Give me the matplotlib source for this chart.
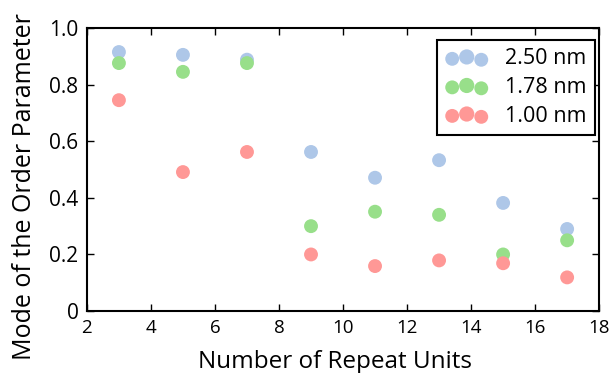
import matplotlib
matplotlib.use("Agg")
import matplotlib.pyplot as plt
from matplotlib.collections import PathCollection
from matplotlib.legend_handler import HandlerPathCollection

plt.rcParams['font.family'] = ['Open Sans', 'DejaVu Sans']

''' Data '''
repeat_units = [3, 5, 7, 9, 11, 13, 15, 17]
mode_250 = [0.915, 0.905, 0.888, 0.562, 0.471, 0.533, 0.382, 0.290]
mode_178 = [0.876, 0.845, 0.876, 0.300, 0.351, 0.340, 0.200, 0.250]
mode_100 = [0.745, 0.491, 0.562, 0.200, 0.159, 0.179, 0.169, 0.119]
labels = ['2.50 nm', '1.78 nm', '1.00 nm']
colors = ['#aec7e8', '#98df8a', '#ff9896']

''' Plot '''
fig = plt.figure(figsize=(6.12, 3.73), dpi=100)
ax = fig.add_axes([0.142, 0.166, 0.837, 0.759])

for vals, lab, col in zip([mode_250, mode_178, mode_100], labels, colors):
    ax.scatter(repeat_units, vals, s=100, color=col, edgecolors='none', label=lab, zorder=3)

ax.set_xlim(2, 18)
ax.set_ylim(0, 1.0)
ax.set_xticks(range(2, 19, 2))
ax.set_yticks([0, 0.2, 0.4, 0.6, 0.8, 1.0])
ax.set_yticklabels(['0', '0.2', '0.4', '0.6', '0.8', '1.0'], fontsize=15)
ax.tick_params(axis='x', labelsize=13.5)
ax.tick_params(direction='in', top=True, right=True, length=5, width=1, pad=6)
for sp in ax.spines.values():
    sp.set_linewidth(1.5)

ax.set_xlabel('Number of Repeat Units', fontsize=17.5, va='top')
ax.xaxis.set_label_coords(0.485, -0.136)
ax.set_ylabel('Mode of the Order Parameter', fontsize=18)
ax.yaxis.set_label_coords(-0.097, 0.44)

leg = ax.legend(loc='upper right', bbox_to_anchor=(0.992, 0.958), borderaxespad=0,
                scatterpoints=3, fontsize=15.5, fancybox=False,
                edgecolor='black', framealpha=1, handletextpad=0.8,
                handlelength=1.95, labelspacing=0.35,
                handler_map={PathCollection: HandlerPathCollection(sizes=[100, 120, 100])})
leg.get_frame().set_linewidth(1.5)

fig.savefig('out.png', dpi=100)
